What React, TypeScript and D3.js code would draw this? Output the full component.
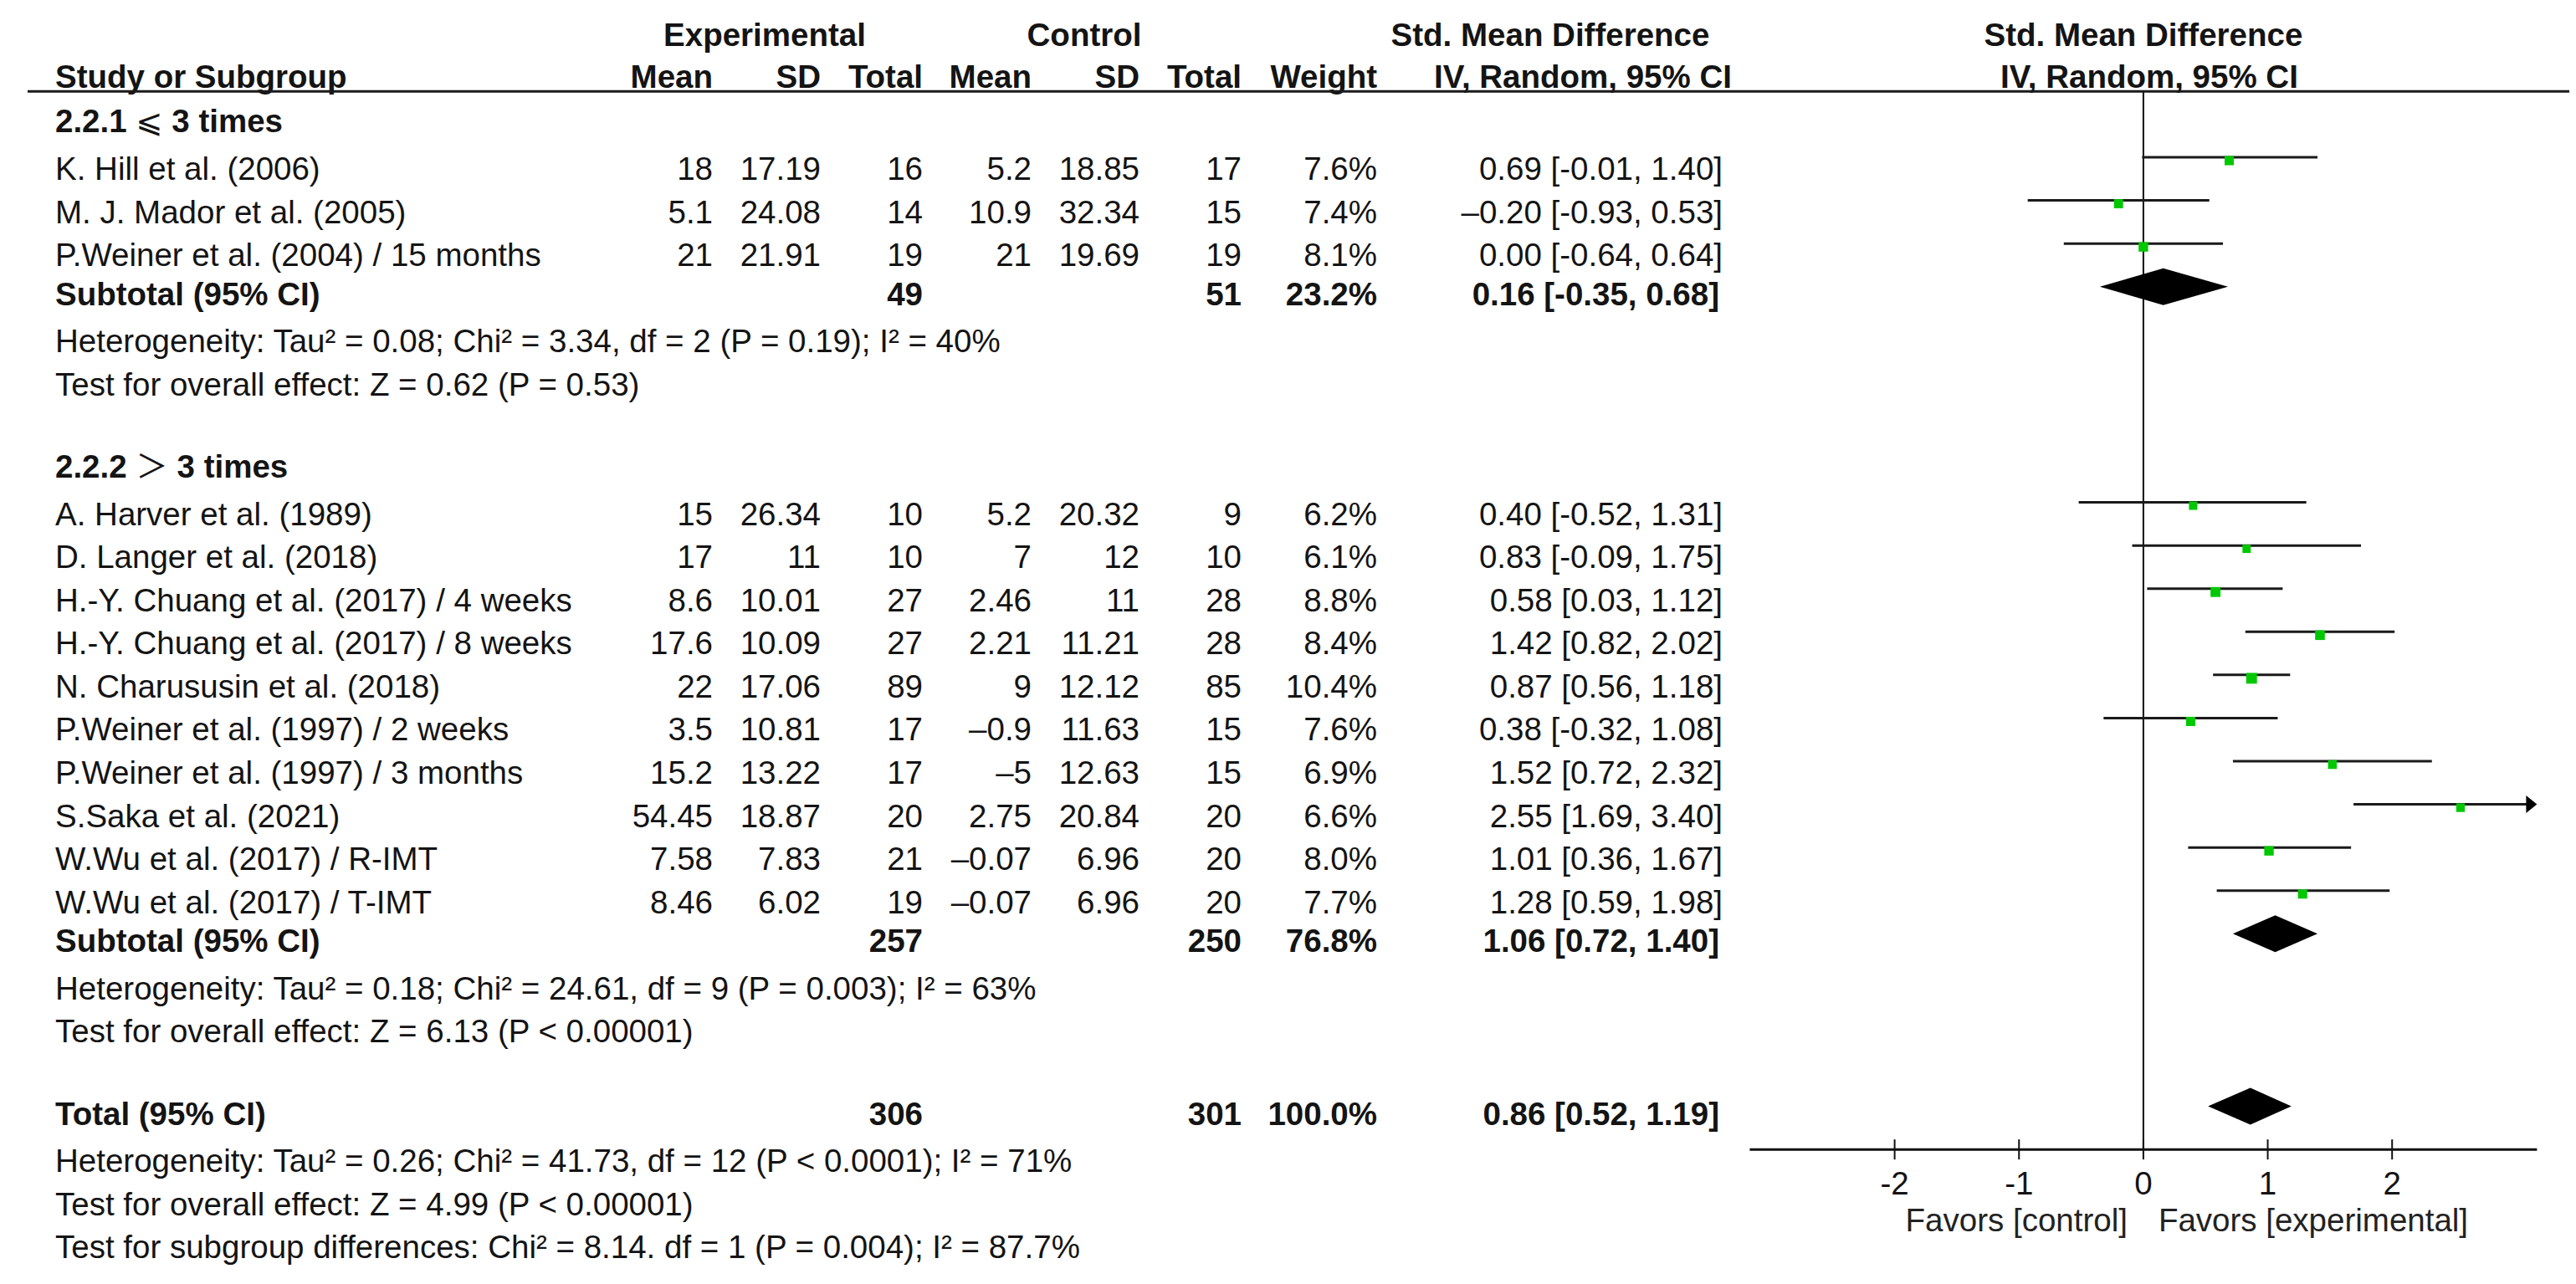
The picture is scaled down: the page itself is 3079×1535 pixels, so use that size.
import React from "react";
import * as d3 from "d3";

// ---------------- DATA ----------------
const groupLabels = ["2.2.1 ", "2.2.2 "];
const groupSymbols = ["⩽", "＞"];
const groupSuffix = [" 3 times", " 3 times"];

const studyNames = [
  "K. Hill et al. (2006)",
  "M. J. Mador et al. (2005)",
  "P.Weiner et al. (2004) / 15 months",
  "A. Harver et al. (1989)",
  "D. Langer et al. (2018)",
  "H.-Y. Chuang et al. (2017) / 4 weeks",
  "H.-Y. Chuang et al. (2017) / 8 weeks",
  "N. Charususin et al. (2018)",
  "P.Weiner et al. (1997) / 2 weeks",
  "P.Weiner et al. (1997) / 3 months",
  "S.Saka et al. (2021)",
  "W.Wu et al. (2017) / R-IMT",
  "W.Wu et al. (2017) / T-IMT",
];
const studyGroup = [0, 0, 0, 1, 1, 1, 1, 1, 1, 1, 1, 1, 1];
const expMean = [18, 5.1, 21, 15, 17, 8.6, 17.6, 22, 3.5, 15.2, 54.45, 7.58, 8.46];
const expSD = [17.19, 24.08, 21.91, 26.34, 11, 10.01, 10.09, 17.06, 10.81, 13.22, 18.87, 7.83, 6.02];
const expN = [16, 14, 19, 10, 10, 27, 27, 89, 17, 17, 20, 21, 19];
const ctlMean = [5.2, 10.9, 21, 5.2, 7, 2.46, 2.21, 9, -0.9, -5, 2.75, -0.07, -0.07];
const ctlSD = [18.85, 32.34, 19.69, 20.32, 12, 11, 11.21, 12.12, 11.63, 12.63, 20.84, 6.96, 6.96];
const ctlN = [17, 15, 19, 9, 10, 28, 28, 85, 15, 15, 20, 20, 20];
const weight = [7.6, 7.4, 8.1, 6.2, 6.1, 8.8, 8.4, 10.4, 7.6, 6.9, 6.6, 8.0, 7.7];
const smd = [0.69, -0.2, 0.0, 0.4, 0.83, 0.58, 1.42, 0.87, 0.38, 1.52, 2.55, 1.01, 1.28];
const ciLow = [-0.01, -0.93, -0.64, -0.52, -0.09, 0.03, 0.82, 0.56, -0.32, 0.72, 1.69, 0.36, 0.59];
const ciHigh = [1.4, 0.53, 0.64, 1.31, 1.75, 1.12, 2.02, 1.18, 1.08, 2.32, 3.4, 1.67, 1.98];

const subExpN = [49, 257];
const subCtlN = [51, 250];
const subWeight = [23.2, 76.8];
const subSmd = [0.16, 1.06];
const subLow = [-0.35, 0.72];
const subHigh = [0.68, 1.4];
const subHet = [
  "Heterogeneity: Tau² = 0.08; Chi² = 3.34, df = 2 (P = 0.19); I² = 40%",
  "Heterogeneity: Tau² = 0.18; Chi² = 24.61, df = 9 (P = 0.003); I² = 63%",
];
const subTest = [
  "Test for overall effect: Z = 0.62 (P = 0.53)",
  "Test for overall effect: Z = 6.13 (P < 0.00001)",
];

const totExpN = 306;
const totCtlN = 301;
const totWeight = 100.0;
const totSmd = 0.86;
const totLow = 0.52;
const totHigh = 1.19;
const totalNotes = [
  "Heterogeneity: Tau² = 0.26; Chi² = 41.73, df = 12 (P < 0.0001); I² = 71%",
  "Test for overall effect: Z = 4.99 (P < 0.00001)",
  "Test for subgroup differences: Chi² = 8.14. df = 1 (P = 0.004); I² = 87.7%",
];

const tickValues = [-2, -1, 0, 1, 2];
const axisLimits = [-3.165, 3.165];
const favorLabels = ["Favors [control]", "Favors [experimental]"];

// ---------------- LAYOUT ----------------
const W = 3079;
const H = 1535;
const FONT = '"Liberation Sans", Arial, Helvetica, sans-serif';
const FS = 38.5;
const INK = "#141414";
const GREEN = "#00c800";

const yRow = d3.scaleLinear().domain([1, 26]).range([215, 1504.3]);
const x = d3.scaleLinear().domain([-2, 2]).range([2264.6, 2859.2]);

const col = {
  name: 66,
  expMean: 852,
  expSD: 981,
  expN: 1103,
  ctlMean: 1233,
  ctlSD: 1362,
  ctlN: 1484,
  weight: 1646,
  ci: 2059,
};

const f2 = (v: number) => d3.format(".2f")(v).replace("−", "-");
const f1 = (v: number) => d3.format(".1f")(v);
const num = (v: number) => (v < 0 ? "–" + String(-v) : String(v));
const lead = (v: number) => (v < 0 ? "–" + f2(-v) : f2(v));
const ciText = (e: number, l: number, h: number) => `${lead(e)} [${f2(l)}, ${f2(h)}]`;

type Row =
  | { kind: "group"; i: number; g: number }
  | { kind: "study"; i: number; s: number }
  | { kind: "sub"; i: number; g: number }
  | { kind: "note"; i: number; text: string }
  | { kind: "total"; i: number };

function buildRows(): Row[] {
  const rows: Row[] = [];
  let i = 0;
  for (let g = 0; g < groupLabels.length; g++) {
    rows.push({ kind: "group", i: i++, g });
    studyNames.forEach((_, s) => {
      if (studyGroup[s] === g) rows.push({ kind: "study", i: i++, s });
    });
    rows.push({ kind: "sub", i: i++, g });
    rows.push({ kind: "note", i: i++, text: subHet[g] });
    rows.push({ kind: "note", i: i++, text: subTest[g] });
    i++;
  }
  rows.push({ kind: "total", i: i++ });
  totalNotes.forEach((t) => rows.push({ kind: "note", i: i++, text: t }));
  return rows;
}

const baseY = (i: number, bold: boolean) => yRow(i) - (bold ? 5 : 0);
const markY = (i: number) => yRow(i) - 27;

function Diamond({ i, e, l, h }: { i: number; e: number; l: number; h: number }) {
  const y = markY(i);
  const pts = [
    [x(l), y],
    [x(e), y - 22],
    [x(h), y],
    [x(e), y + 22],
  ];
  return <polygon points={pts.map((p) => p.join(",")).join(" ")} fill="#000" />;
}

export default function App() {
  const rows = buildRows();
  const lastIndex = rows[rows.length - 1].i;
  const axisY = markY(lastIndex - 2);
  const headerLineY = yRow(-1) - 2.5;
  const xMin = x(axisLimits[0]);
  const xMax = x(axisLimits[1]);

  const T = (props: any) => <text fill={INK} {...props} />;

  return (
    <div style={{ position: "absolute", left: 0, top: 0 }}>
      <svg
        width={W}
        height={H}
        style={{ display: "block", background: "#fff" }}
        fontFamily={FONT}
        fontSize={FS}
      >
        <rect width={W} height={H} fill="#fff" />

        {/* header rows */}
        <g fontWeight="bold">
          <T x={914} y={baseY(-2, true)} textAnchor="middle">Experimental</T>
          <T x={1296} y={baseY(-2, true)} textAnchor="middle">Control</T>
          <T x={1853} y={baseY(-2, true)} textAnchor="middle">Std. Mean Difference</T>
          <T x={x(0)} y={baseY(-2, true)} textAnchor="middle">Std. Mean Difference</T>
          <T x={col.name} y={yRow(-1) - 7}>Study or Subgroup</T>
          <T x={col.expMean} y={yRow(-1) - 7} textAnchor="end">Mean</T>
          <T x={col.expSD} y={yRow(-1) - 7} textAnchor="end">SD</T>
          <T x={col.expN} y={yRow(-1) - 7} textAnchor="end">Total</T>
          <T x={col.ctlMean} y={yRow(-1) - 7} textAnchor="end">Mean</T>
          <T x={col.ctlSD} y={yRow(-1) - 7} textAnchor="end">SD</T>
          <T x={col.ctlN} y={yRow(-1) - 7} textAnchor="end">Total</T>
          <T x={col.weight} y={yRow(-1) - 7} textAnchor="end">Weight</T>
          <T x={1892} y={yRow(-1) - 7} textAnchor="middle">IV, Random, 95% CI</T>
          <T x={x(0) + 7} y={yRow(-1) - 7} textAnchor="middle">IV, Random, 95% CI</T>
        </g>
        <line x1={33} x2={3071} y1={headerLineY} y2={headerLineY} stroke="#1a1a1a" strokeWidth={3} />

        {/* zero line */}
        <line x1={x(0)} x2={x(0)} y1={headerLineY} y2={axisY} stroke="#111" strokeWidth={2} />

        {rows.map((r, k) => {
          if (r.kind === "group") {
            return (
              <T key={k} x={col.name} y={baseY(r.i, true)} fontWeight="bold">
                {groupLabels[r.g]}
                <tspan fontWeight="normal" fontFamily={r.g === 0 ? '"DejaVu Sans", sans-serif' : '"Noto Sans CJK SC", sans-serif'}>
                  {groupSymbols[r.g]}
                </tspan>
                {groupSuffix[r.g]}
              </T>
            );
          }
          if (r.kind === "note") {
            return (
              <T key={k} x={col.name} y={baseY(r.i, false)}>
                {r.text}
              </T>
            );
          }
          if (r.kind === "study") {
            const s = r.s;
            const y = baseY(r.i, false);
            const ym = markY(r.i);
            const clipped = ciHigh[s] > axisLimits[1];
            const hiClip = Math.min(ciHigh[s], axisLimits[1]);
            const side = 4 * Math.sqrt(weight[s]);
            return (
              <g key={k}>
                <T x={col.name} y={y}>{studyNames[s]}</T>
                <T x={col.expMean} y={y} textAnchor="end">{num(expMean[s])}</T>
                <T x={col.expSD} y={y} textAnchor="end">{num(expSD[s])}</T>
                <T x={col.expN} y={y} textAnchor="end">{num(expN[s])}</T>
                <T x={col.ctlMean} y={y} textAnchor="end">{num(ctlMean[s])}</T>
                <T x={col.ctlSD} y={y} textAnchor="end">{num(ctlSD[s])}</T>
                <T x={col.ctlN} y={y} textAnchor="end">{num(ctlN[s])}</T>
                <T x={col.weight} y={y} textAnchor="end">{f1(weight[s]) + "%"}</T>
                <T x={col.ci} y={y} textAnchor="end">{ciText(smd[s], ciLow[s], ciHigh[s])}</T>
                <line x1={x(ciLow[s])} x2={x(hiClip) - (clipped ? 10 : 0)} y1={ym} y2={ym} stroke="#1a1a1a" strokeWidth={3} />
                {clipped && (
                  <polygon
                    points={`${x(hiClip)},${ym} ${x(hiClip) - 13},${ym - 10.5} ${x(hiClip) - 13},${ym + 10.5}`}
                    fill="#000"
                  />
                )}
                <rect x={x(smd[s]) - side / 2} y={ym + 4 - side / 2} width={side} height={side} fill={GREEN} />
              </g>
            );
          }
          if (r.kind === "sub") {
            const g = r.g;
            const y = baseY(r.i, true);
            return (
              <g key={k} fontWeight="bold">
                <T x={col.name} y={y}>Subtotal (95% CI)</T>
                <T x={col.expN} y={y} textAnchor="end">{subExpN[g]}</T>
                <T x={col.ctlN} y={y} textAnchor="end">{subCtlN[g]}</T>
                <T x={col.weight} y={y} textAnchor="end">{f1(subWeight[g]) + "%"}</T>
                <T x={col.ci - 4} y={y} textAnchor="end">{ciText(subSmd[g], subLow[g], subHigh[g])}</T>
                <Diamond i={r.i} e={subSmd[g]} l={subLow[g]} h={subHigh[g]} />
              </g>
            );
          }
          const y = baseY(r.i, true);
          return (
            <g key={k} fontWeight="bold">
              <T x={col.name} y={y}>Total (95% CI)</T>
              <T x={col.expN} y={y} textAnchor="end">{totExpN}</T>
              <T x={col.ctlN} y={y} textAnchor="end">{totCtlN}</T>
              <T x={col.weight} y={y} textAnchor="end">{f1(totWeight) + "%"}</T>
              <T x={col.ci - 4} y={y} textAnchor="end">{ciText(totSmd, totLow, totHigh)}</T>
              <Diamond i={r.i} e={totSmd} l={totLow} h={totHigh} />
            </g>
          );
        })}

        {/* axis */}
        <line x1={xMin} x2={xMax} y1={axisY} y2={axisY} stroke="#111" strokeWidth={3} />
        {tickValues.map((t) => (
          <g key={t}>
            <line x1={x(t)} x2={x(t)} y1={axisY - 12} y2={axisY + 12} stroke="#111" strokeWidth={2} />
            <T x={x(t)} y={axisY + 54} textAnchor="middle">{String(t)}</T>
          </g>
        ))}
        <T x={x(0) - 19} y={axisY + 98} textAnchor="end" fill="#222">{favorLabels[0]}</T>
        <T x={x(0) + 18} y={axisY + 98} textAnchor="start" fill="#222">{favorLabels[1]}</T>
      </svg>
    </div>
  );
}
